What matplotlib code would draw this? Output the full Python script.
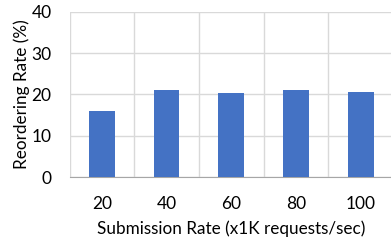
import numpy as np
import matplotlib.pyplot as plt

plt.rcParams['font.family'] = ['Lato', 'DejaVu Sans']

rates = ['20', '40', '60', '80', '100']
reorder_pct = [16.1, 21.2, 20.3, 21.0, 20.5]

fig = plt.figure(figsize=(3.91, 2.43), dpi=100)
ax = fig.add_axes([69.5 / 391, (243 - 177) / 243, (393 - 69.5) / 391, (177 - 12) / 243])

x = np.arange(len(rates))
ax.bar(x, reorder_pct, width=0.4, color='#4472C4', zorder=3)

ax.set_xlim(-0.5, len(rates) - 0.5)
ax.set_ylim(0, 40)
ax.set_yticks([0, 10, 20, 30, 40])
ax.set_xticks(x)
ax.set_xticklabels(rates)
# vertical grid on category boundaries
ax.set_xticks(np.arange(len(rates) + 1) - 0.5, minor=True)
ax.grid(axis='y', color='#D9D9D9', linewidth=1, zorder=0)
ax.grid(axis='x', which='minor', color='#D9D9D9', linewidth=1, zorder=0)

for s in ['top', 'right', 'left']:
    ax.spines[s].set_visible(False)
ax.spines['bottom'].set_color('#A6A6A6')
ax.tick_params(axis='both', which='both', length=0, labelsize=12.5, colors='#000000')
ax.tick_params(axis='x', which='major', pad=14)
ax.tick_params(axis='y', which='major', pad=13)

ax.set_xlabel('Submission Rate (x1K requests/sec)', fontsize=12.3, labelpad=6)
ax.set_ylabel('Reordering Rate (%)', fontsize=12.3, labelpad=1)

fig.savefig('out.png', dpi=100)
